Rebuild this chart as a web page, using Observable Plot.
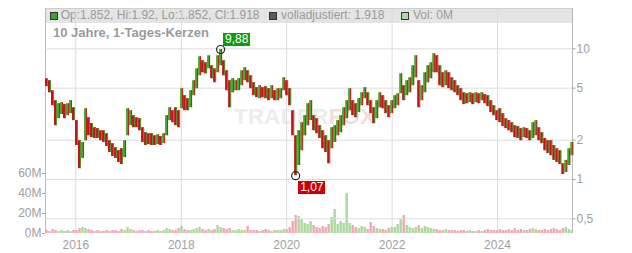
<!DOCTYPE html>
<html>
<head>
<meta charset="utf-8">
<script src="https://cdn.jsdelivr.net/npm/d3@7"></script>
<script src="https://cdn.jsdelivr.net/npm/@observablehq/plot@0.6"></script>
<style>
  html, body { margin: 0; padding: 0; background: #fff; }
  #wrap { position: relative; width: 632px; height: 253px; overflow: hidden; font-family: "Liberation Sans", Arial, sans-serif; }
  #wrap svg { position: absolute; left: 0; top: 0; }
  #legend { position: absolute; left: 45px; top: 8px; width: 527px; height: 15px; background: #e4e4e4; }
  .lg { position: absolute; top: 0; height: 15px; line-height: 15px; font-size: 12px; color: #9a9a9a; white-space: nowrap; }
  .sq { position: absolute; top: 4px; width: 8px; height: 8px; box-sizing: border-box; border: 1px solid #333; }
  #title { position: absolute; left: 53px; top: 25px; line-height: 16px; font-size: 13px; font-weight: bold; color: #9a9a9a; white-space: nowrap; }
  #wm { position: absolute; left: 234px; top: 105px; line-height: 24px; font-size: 22px; font-weight: bold; color: #ececec; white-space: nowrap; letter-spacing: 0.5px; }
  #wm span { color: #f7dada; }
  .ann { position: absolute; height: 13px; line-height: 13px; font-size: 12px; color: #fff; padding: 0 2px; white-space: nowrap; }
</style>
</head>
<body>
<div id="wrap"></div>
<script>
// ---- data ----
const priceHigh = [5.90,5.70,4.78,4.01,3.80,3.87,3.74,3.80,4.01,3.54,
  2.82,1.98,1.92,3.48,2.97,2.68,2.49,2.45,2.36,2.36,
  2.24,1.98,1.88,1.75,1.66,1.72,1.98,3.48,3.36,3.08,
  2.97,2.92,2.49,2.28,2.24,2.24,2.16,2.20,2.13,2.24,
  3.08,3.54,3.36,3.54,3.36,4.95,4.38,4.15,4.78,5.70,
  7.03,8.69,8.10,7.82,8.85,7.42,7.03,8.85,9.88,8.10,
  6.79,5.70,5.90,5.70,5.90,6.79,7.16,6.79,6.22,5.50,
  5.04,5.22,5.04,5.13,4.95,5.22,4.78,4.95,4.95,6.00,
  5.70,4.95,3.36,2.16,2.36,2.72,3.08,3.80,4.01,3.08,
  2.92,2.58,2.36,2.16,1.98,2.49,2.58,2.82,3.08,3.54,
  4.01,4.95,4.01,3.80,4.15,4.61,5.04,4.61,4.01,3.54,
  4.01,4.61,4.38,4.01,3.67,4.01,4.38,4.53,6.44,5.22,
  5.70,6.00,7.42,8.85,5.70,5.22,6.56,7.42,7.82,9.16,
  8.85,7.42,6.56,6.79,6.56,6.00,5.70,5.22,4.95,4.61,
  4.53,4.61,4.53,4.61,4.53,4.61,4.46,4.38,4.01,3.67,
  3.36,3.48,3.19,2.92,2.82,2.72,2.58,2.54,2.45,2.49,
  2.45,2.36,2.72,2.82,2.49,2.28,2.06,1.98,1.98,1.82,
  1.72,1.66,1.32,1.40,1.72,1.92];
const priceLow = [5.13,4.61,3.67,2.58,2.92,3.14,2.92,3.08,3.19,2.82,
  1.82,1.21,1.45,1.98,2.16,2.09,2.06,2.06,1.98,1.92,
  1.79,1.61,1.50,1.45,1.35,1.30,1.47,2.16,2.58,2.49,
  2.49,2.36,1.92,1.82,1.85,1.82,1.82,1.85,1.82,1.88,
  2.16,2.82,2.72,2.58,2.49,3.48,3.36,3.36,3.54,4.38,
  4.95,6.22,6.56,6.44,7.03,5.90,5.50,6.56,7.42,6.22,
  4.78,3.54,4.61,4.78,4.78,5.22,5.70,5.50,4.95,4.38,
  4.23,4.15,4.23,4.15,4.01,4.15,4.01,4.01,4.15,4.78,
  4.38,3.67,2.16,1.07,1.28,1.66,2.16,2.58,2.82,2.36,
  2.24,2.06,1.72,1.61,1.32,1.72,1.92,2.16,2.28,2.58,
  2.92,3.36,3.08,2.97,3.25,3.67,4.15,3.67,3.19,2.68,
  2.92,3.54,3.48,3.19,2.97,3.19,3.48,3.67,4.53,4.01,
  4.38,4.61,5.22,6.00,3.54,4.01,4.61,5.50,5.90,6.56,
  6.56,5.22,5.04,5.22,4.95,4.78,4.61,4.38,4.01,3.74,
  3.80,3.87,3.74,3.87,3.80,4.01,3.80,3.61,3.25,3.08,
  2.82,2.72,2.54,2.45,2.36,2.28,2.09,2.06,1.98,2.09,
  2.06,1.98,2.06,2.16,1.98,1.88,1.66,1.58,1.52,1.40,
  1.35,1.30,1.09,1.13,1.28,1.52];
const volumeM = [3,2,4,3,2,3,2,3,2,3,
  3,5,6,5,4,3,2,3,2,2,
  3,2,3,3,2,4,3,6,4,3,
  2,3,3,2,3,2,2,3,2,3,
  5,4,3,3,5,7,4,3,3,4,
  5,6,4,3,4,3,4,8,6,5,
  4,5,3,3,4,3,3,7,3,3,
  3,2,3,4,3,2,3,3,3,4,
  4,6,12,18,17,14,10,9,12,8,
  6,5,7,6,9,16,24,9,12,10,
  40,10,8,6,5,7,6,4,11,7,
  5,4,4,3,5,6,6,9,14,18,
  8,6,5,6,8,5,7,6,5,4,
  4,3,3,4,3,3,3,2,3,3,
  2,3,2,2,3,2,3,4,3,3,
  3,4,3,3,4,3,5,3,4,3,
  3,4,5,4,3,3,4,3,4,5,
  4,3,5,6,4,3];
const firstBarDate = "2015-06-12";
const barStepDays = 20.8;
const xStart = "2015-06-05", xEnd = "2025-06-04";
const yearTickDates = ["2016-01-01","2018-01-01","2020-01-01","2022-01-01","2024-01-01"];
const yearTickLabels = ["2016","2018","2020","2022","2024"];
const priceTicks = [0.5, 1, 2, 5, 10];
const priceTickLabels = ["0,5","1","2","5","10"];
const volumeTicks = [0, 20, 40, 60];
const volumeTickLabels = ["0M","20M","40M","60M"];
const legendLabels = ["Op:1.852, Hi:1.92, Lo:1.852, Cl:1.918", "volladjustiert: 1.918", "Vol: 0M"];
const legendColors = ["#3fa32c", "#5a5a5a", "#a8dca0"];
const titleText = "10 Jahre, 1-Tages-Kerzen";
const watermark = ["TRADER", "FOX"];
const extremes = [
  {index: 58, value: 9.88, label: "9,88", color: "#109a10"},
  {index: 83, value: 1.07, label: "1,07", color: "#cc0000"}
];

// ---- build ----
const wrap = document.getElementById("wrap");
const font = "'Liberation Sans', Arial, sans-serif";
const GREEN = "#45a62e", RED = "#c3141b";
const t0 = new Date(firstBarDate + "T00:00:00Z").getTime();
const bars = priceHigh.map((h, i) => ({
  date: new Date(t0 + i * barStepDays * 864e5), hi: h, lo: priceLow[i], vol: volumeM[i]
}));
bars.forEach((b, i) => {
  const prev = i ? Math.sqrt(bars[i-1].hi * bars[i-1].lo) : Infinity;
  b.up = Math.sqrt(b.hi * b.lo) >= prev;
});
const xDomain = [new Date(xStart + "T00:00:00Z"), new Date(xEnd + "T00:00:00Z")];
const yearDates = yearTickDates.map(d => new Date(d + "T00:00:00Z"));
const yearLabelOf = d => yearTickLabels[yearDates.findIndex(t => +t === +d)];

// legend bar
const legend = document.createElement("div");
legend.id = "legend";
const legX = [[5, 15.7], [224, 236], [356, 368]];
legendLabels.forEach((t, i) => {
  const sq = document.createElement("div");
  sq.className = "sq"; sq.style.left = legX[i][0] + "px"; sq.style.background = legendColors[i];
  const tx = document.createElement("div");
  tx.className = "lg"; tx.style.left = legX[i][1] + "px"; tx.textContent = t;
  legend.appendChild(sq); legend.appendChild(tx);
});
wrap.appendChild(legend);

// faint watermark
const wm = document.createElement("div");
wm.id = "wm";
wm.appendChild(document.createTextNode(watermark[0]));
const wmSpan = document.createElement("span"); wmSpan.textContent = watermark[1];
wm.appendChild(wmSpan);
wrap.appendChild(wm);

const common = {
  width: 632, height: 253, marginLeft: 45, marginRight: 60, marginBottom: 20,
  style: {background: "transparent", fontFamily: font, fontSize: "12px", color: "#a0a0a0", overflow: "visible"}
};

const volPlot = Plot.plot({
  ...common, marginTop: 8,
  x: {type: "utc", domain: xDomain, label: null},
  y: {domain: [0, 225], label: null},
  marks: [
    Plot.ruleX(yearDates, {stroke: "#dcdcdc"}),
    Plot.ruleY([225], {stroke: "#cfcfcf"}),
    Plot.ruleX(bars, {x: "date", y1: 0, y2: "vol", stroke: d => d.up ? "#a9d99b" : "#f2a7b0", strokeWidth: 2.4}),
    Plot.axisX(yearDates, {tickSize: 0, tickPadding: 7, tickFormat: yearLabelOf, fontSize: 12}),
    Plot.axisY(volumeTicks, {anchor: "left", tickSize: 3, tickPadding: 1, tickFormat: d => volumeTickLabels[volumeTicks.indexOf(d)], fontSize: 12}),
    Plot.ruleX(xDomain, {stroke: "#b8b8b8"})
  ]
});
wrap.appendChild(volPlot);

const pricePlot = Plot.plot({
  ...common, marginTop: 23,
  x: {type: "utc", domain: xDomain, axis: null},
  y: {type: "log", domain: [0.386, 15.62], label: null, axis: null},
  marks: [
    Plot.ruleY(priceTicks, {stroke: "#dcdcdc"}),
    Plot.dot(priceTicks, {
      x: () => xDomain[1], y: d => d, stroke: "#a0a0a0", strokeWidth: 1,
      symbol: {draw(ctx) { ctx.moveTo(0, 0); ctx.lineTo(3, 0); }}
    }),
    Plot.text(priceTicks, {
      x: () => xDomain[1], y: d => d, text: d => priceTickLabels[priceTicks.indexOf(d)],
      dx: 4, textAnchor: "start", fill: "#a0a0a0", fontSize: 12
    }),
    Plot.ruleX(bars, {x: "date", y1: "lo", y2: "hi", stroke: d => d.up ? GREEN : RED, strokeWidth: 3}),
    Plot.ruleX(bars, {x: "date", y1: "lo", y2: "hi", dx: 1, stroke: d => d.up ? RED : GREEN, strokeWidth: 0.9}),
    Plot.dot(extremes, {x: d => bars[d.index].date, y: "value", r: 4, stroke: "#222", fill: "none", strokeWidth: 1.2})
  ]
});
wrap.appendChild(pricePlot);

// title
const title = document.createElement("div");
title.id = "title"; title.textContent = titleText;
wrap.appendChild(title);

// extreme labels positioned through the plot's scales
const sx = pricePlot.scale("x"), sy = pricePlot.scale("y");
extremes.forEach((e, k) => {
  const cx = sx.apply(bars[e.index].date), cy = sy.apply(e.value);
  const a = document.createElement("div");
  a.className = "ann"; a.textContent = e.label; a.style.background = e.color;
  a.style.left = (cx + 3) + "px";
  a.style.top = (k === 0 ? cy - 16 : cy + 6) + "px";
  wrap.appendChild(a);
});
</script>
</body>
</html>
